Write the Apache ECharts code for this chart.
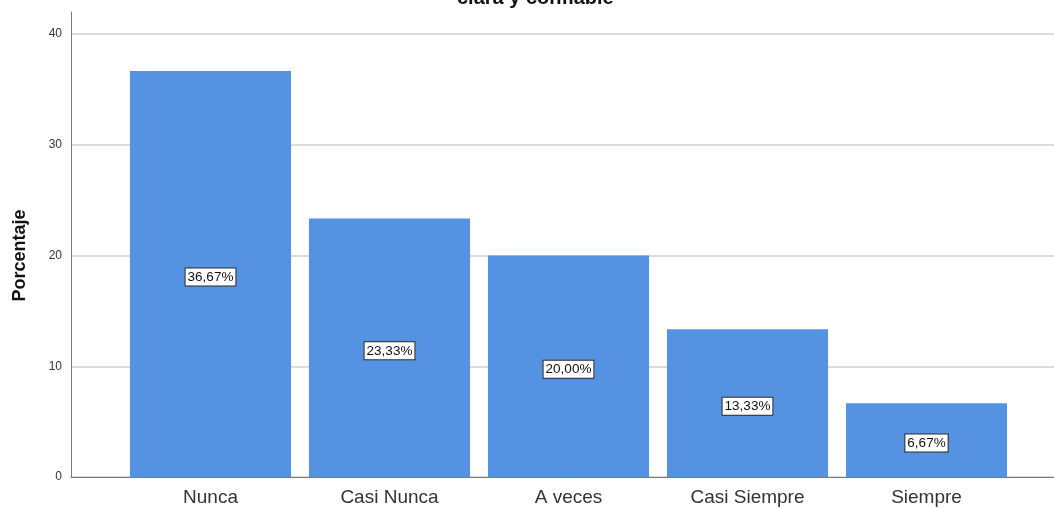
<!DOCTYPE html>
<html>
<head>
<meta charset="utf-8">
<style>
  html, body { margin: 0; padding: 0; background: #fff; }
  #chart { width: 1054px; height: 509px; }
</style>
<script src="https://cdn.jsdelivr.net/npm/echarts@6/dist/echarts.min.js"></script>
</head>
<body>
<div id="chart"></div>
<script>
// Response categories and their share of answers (%)
const categories = ['Nunca', 'Casi Nunca', 'A veces', 'Casi Siempre', 'Siempre'];
const porcentajes = [36.67, 23.33, 20.00, 13.33, 6.67];
const titleText = 'clara y confiable';
const yAxisTitle = 'Porcentaje';

const FONT = 'Arial, "Liberation Sans", sans-serif';
const BAR_COLOR = '#5592e1';

const fmtPct = v => v.toFixed(2).replace('.', ',') + '%';

const chart = echarts.init(document.getElementById('chart'), null, { renderer: 'canvas' });

chart.setOption({
  animation: false,
  backgroundColor: '#ffffff',
  title: {
    text: titleText,
    left: 452,
    top: -17,
    textStyle: { fontFamily: FONT, fontSize: 20, fontWeight: 'bold', color: '#111' }
  },
  grid: [
    // frame: gridlines, y labels and bottom axis line
    { left: 71, right: 0, top: 34, bottom: 32 },
    // taller left axis line
    { left: 71, right: 0, top: 12, bottom: 32 },
    // bars
    { left: 121, right: 38, top: 34, bottom: 32 }
  ],
  xAxis: [
    {
      gridIndex: 0, type: 'value', min: 0, max: 1,
      axisLine: { show: true, lineStyle: { color: '#7a7a7a', width: 1 } },
      axisTick: { show: false }, axisLabel: { show: false }, splitLine: { show: false }
    },
    {
      gridIndex: 1, type: 'value', min: 0, max: 1, show: false
    },
    {
      gridIndex: 2, type: 'category', data: categories,
      axisLine: { show: false }, axisTick: { show: false },
      axisLabel: { fontFamily: FONT, fontSize: 19, color: '#333', margin: 11 }
    }
  ],
  yAxis: [
    {
      gridIndex: 0, type: 'value', min: 0, max: 40, interval: 10,
      axisLine: { show: false }, axisTick: { show: false },
      axisLabel: { fontFamily: FONT, fontSize: 12, color: '#333', margin: 9, padding: [4, 0, 0, 0] },
      splitLine: { show: true, lineStyle: { color: '#cfcfcf', width: 1.5 } },
      name: yAxisTitle, nameLocation: 'middle', nameGap: 42,
      nameTextStyle: { fontFamily: FONT, fontSize: 18, fontWeight: 'bold', color: '#111' }
    },
    {
      gridIndex: 1, type: 'value', min: 0, max: 1,
      axisLine: { show: true, lineStyle: { color: '#7a7a7a', width: 1 } },
      axisTick: { show: false }, axisLabel: { show: false }, splitLine: { show: false }
    },
    {
      gridIndex: 2, type: 'value', min: 0, max: 40, show: false, splitLine: { show: false }
    }
  ],
  series: [
    {
      type: 'bar',
      xAxisIndex: 2, yAxisIndex: 2,
      data: porcentajes,
      barCategoryGap: '10%',
      itemStyle: { color: BAR_COLOR },
      label: {
        show: true,
        position: 'inside',
        offset: [0, 3],
        formatter: p => fmtPct(p.value),
        fontFamily: FONT, fontSize: 13.5, color: '#111',
        backgroundColor: '#ffffff',
        borderColor: '#2a2a2a', borderWidth: 1,
        padding: [2, 2, 1, 2]
      }
    }
  ]
});
</script>
</body>
</html>
